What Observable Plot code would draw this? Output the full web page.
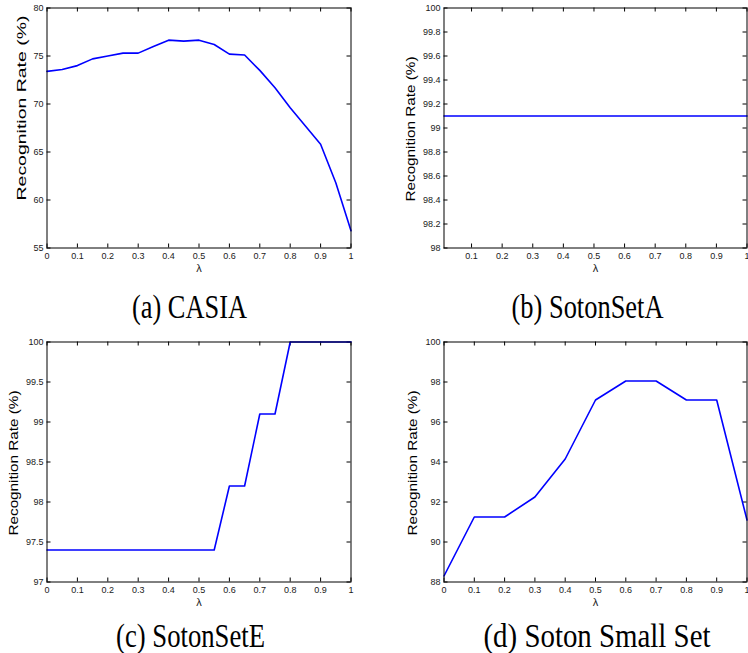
<!DOCTYPE html>
<html><head><meta charset="utf-8">
<script src="https://cdn.jsdelivr.net/npm/d3@7"></script>
<script src="https://cdn.jsdelivr.net/npm/@observablehq/plot@0.6"></script>
<style>
html,body{margin:0;padding:0;background:#fff;}
#wrap{position:relative;width:748px;height:653px;overflow:hidden;background:#fff;}
.panel{position:absolute;}
</style></head><body><div id="wrap"></div>
<script>
// ---- data ----
const lambdaA = [0,0.05,0.1,0.15,0.2,0.25,0.3,0.35,0.4,0.45,0.5,0.55,0.6,0.65,0.7,0.75,0.8,0.85,0.9,0.95,1];
const rateA   = [73.4,73.6,74.0,74.7,75.0,75.3,75.3,76.0,76.65,76.55,76.65,76.2,75.2,75.1,73.5,71.7,69.6,67.7,65.8,61.8,56.8];
const lambdaB = [0.01,0.1,0.2,0.3,0.4,0.5,0.6,0.7,0.8,0.9,1];
const rateB   = [99.1,99.1,99.1,99.1,99.1,99.1,99.1,99.1,99.1,99.1,99.1];
const lambdaC = [0,0.05,0.1,0.15,0.2,0.25,0.3,0.35,0.4,0.45,0.5,0.55,0.6,0.65,0.7,0.75,0.8,0.85,0.9,0.95,1];
const rateC   = [97.4,97.4,97.4,97.4,97.4,97.4,97.4,97.4,97.4,97.4,97.4,97.4,98.2,98.2,99.1,99.1,100,100,100,100,100];
const lambdaD = [0,0.1,0.2,0.3,0.4,0.5,0.6,0.7,0.8,0.9,1];
const rateD   = [88.3,91.25,91.25,92.25,94.15,97.1,98.05,98.05,97.1,97.1,91.1];

const xTicksFull = [0,0.1,0.2,0.3,0.4,0.5,0.6,0.7,0.8,0.9,1];
const xTicksB    = [0.1,0.2,0.3,0.4,0.5,0.6,0.7,0.8,0.9,1];
const yTicksA = [55,60,65,70,75,80];
const yTicksB = [98,98.2,98.4,98.6,98.8,99,99.2,99.4,99.6,99.8,100];
const yTicksC = [97,97.5,98,98.5,99,99.5,100];
const yTicksD = [88,90,92,94,96,98,100];

const xLabel = "λ";
const yLabel = "Recognition Rate (%)";
const captions = ["(a) CASIA", "(b) SotonSetA", "(c) SotonSetE", "(d) Soton Small Set"];

// ---- layout ----
const wrap = document.getElementById("wrap");

function panel(cfg) {
  const data = cfg.xs.map((x, i) => ({x, y: cfg.ys[i]}));
  const [x0, x1] = cfg.xDomain, [y0, y1] = cfg.yDomain;
  const svg = Plot.plot({
    width: 374, height: 280,
    marginLeft: cfg.ml, marginRight: cfg.mr, marginTop: 7.5, marginBottom: 32.5,
    style: {fontFamily: "'Liberation Sans', Arial, sans-serif", fontSize: "9px", color: "#1a1a1a", background: "transparent", overflow: "visible"},
    x: {domain: cfg.xDomain},
    y: {domain: cfg.yDomain},
    marks: [
      Plot.axisX(cfg.xTicks, {tickSize: 0, tickPadding: 5, tickFormat: d => String(d), label: null}),
      Plot.axisY(cfg.yTicks, {tickSize: 0, tickPadding: 3.5, tickFormat: d => String(d), label: null}),
      Plot.ruleX(cfg.xTicks, {x: d => d, y1: y0, y2: y0, insetBottom: 4, stroke: "#000"}),
      Plot.ruleX(cfg.xTicks, {x: d => d, y1: y1, y2: y1, insetTop: 4, stroke: "#000"}),
      Plot.ruleY(cfg.yTicks, {y: d => d, x1: x0, x2: x0, insetLeft: 4, stroke: "#000"}),
      Plot.ruleY(cfg.yTicks, {y: d => d, x1: x1, x2: x1, insetRight: 4, stroke: "#000"}),
      Plot.line(data, {x: "x", y: "y", stroke: "#0000ff", strokeWidth: 1.6}),
      Plot.frame({stroke: "#000", strokeWidth: 1}),
      Plot.text([xLabel], {frameAnchor: "bottom", dy: 23.5, fontSize: 11, fill: "#1a1a1a"}),
      Plot.text([yLabel], {frameAnchor: "left", textAnchor: "middle", rotate: -90, dx: cfg.ldx, dy: cfg.ldy, fontSize: 13, fill: "#000"})
    ]
  });
  d3.select(svg).selectAll("text").filter(function() { return this.textContent === yLabel; })
    .attr("text-anchor", "middle")
    .attr("textLength", cfg.llen).attr("lengthAdjust", "spacingAndGlyphs");
  svg.classList.add("panel");
  svg.style.left = cfg.left + "px";
  svg.style.top = cfg.top + "px";
  wrap.appendChild(svg);
}

panel({xs: lambdaA, ys: rateA, xDomain: [0, 1], yDomain: [55, 80], xTicks: xTicksFull, yTicks: yTicksA,
       ml: 46.5, mr: 23.5, left: 0, top: 0, ldx: -25, ldy: -20, llen: 185});
panel({xs: lambdaB, ys: rateB, xDomain: [0.01, 1], yDomain: [98, 100], xTicks: xTicksB, yTicks: yTicksB,
       ml: 69.5, mr: 1.5, left: 374, top: 0, ldx: -33, ldy: 1, llen: 145});
panel({xs: lambdaC, ys: rateC, xDomain: [0, 1], yDomain: [97, 100], xTicks: xTicksFull, yTicks: yTicksC,
       ml: 46.5, mr: 23.5, left: 0, top: 334, ldx: -33, ldy: 1, llen: 145});
panel({xs: lambdaD, ys: rateD, xDomain: [0, 1], yDomain: [88, 100], xTicks: xTicksFull, yTicks: yTicksD,
       ml: 69.5, mr: 1.5, left: 374, top: 334, ldx: -31, ldy: 1, llen: 145});

// captions overlay
const capPos = [{x: 189.5, y: 318, w: 115}, {x: 587.5, y: 318, w: 152}, {x: 190.5, y: 646.5, w: 149}, {x: 597, y: 646.5, w: 227}];
const ov = d3.create("svg").attr("width", 748).attr("height", 653)
  .style("position", "absolute").style("left", "0px").style("top", "0px").style("pointer-events", "none");
ov.selectAll("text").data(captions).join("text")
  .attr("x", (d, i) => capPos[i].x).attr("y", (d, i) => capPos[i].y)
  .attr("text-anchor", "middle")
  .attr("textLength", (d, i) => capPos[i].w).attr("lengthAdjust", "spacingAndGlyphs")
  .attr("font-family", "'Liberation Serif', 'Times New Roman', serif")
  .attr("font-size", 34).attr("fill", "#000")
  .text(d => d);
wrap.appendChild(ov.node());
</script></body></html>
